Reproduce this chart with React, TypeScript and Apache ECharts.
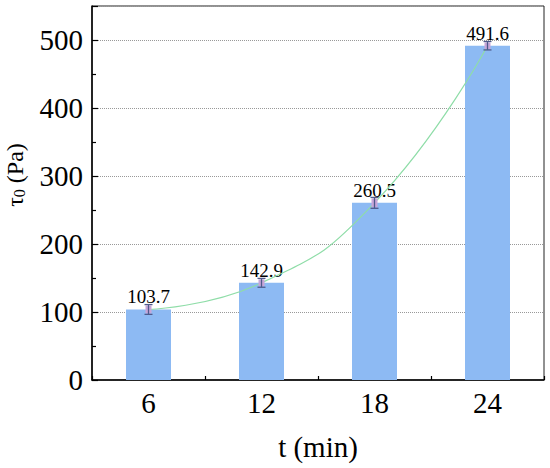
import React, { useEffect, useRef } from "react";
import * as echarts from "echarts";

const categories = ["6", "12", "18", "24"];
const tauValues = [103.7, 142.9, 260.5, 491.6];
const tauErrors = [7.2, 6.5, 8, 6.2];

const FONT = "'Liberation Serif', 'Times New Roman', serif";

export default function App() {
  const ref = useRef<HTMLDivElement>(null);

  useEffect(() => {
    document.body.style.margin = "0";
    if (!ref.current) return;
    const chart = echarts.init(ref.current, undefined, { renderer: "svg" });

    const errorData = categories.map((_, i) => [i, tauValues[i], tauErrors[i]]);

    chart.setOption({
      animation: false,
      textStyle: { fontFamily: FONT },
      grid: {
        left: 92,
        right: 6,
        top: 6,
        bottom: 88,
        containLabel: false,
        outerBoundsMode: "none",
        show: true,
        borderColor: "#222",
        borderWidth: 1,
        backgroundColor: "transparent",
      },
      xAxis: [
        {
          type: "category",
          data: categories,
          boundaryGap: true,
          name: "t (min)",
          nameLocation: "middle",
          nameGap: 52,
          nameTextStyle: { fontFamily: FONT, fontSize: 29, color: "#000" },
          axisLine: { lineStyle: { color: "#000", width: 1.5 } },
          axisTick: { show: true, alignWithLabel: true, inside: true, length: 6, lineStyle: { color: "#000", width: 1.2 } },
          axisLabel: { fontFamily: FONT, fontSize: 29, color: "#000", margin: 8 },
          splitLine: { show: false },
        },
        {
          type: "category",
          data: categories,
          boundaryGap: true,
          position: "bottom",
          axisLine: { show: false },
          axisTick: { show: true, alignWithLabel: false, inside: true, length: 4, lineStyle: { color: "#000", width: 1.2 } },
          axisLabel: { show: false },
          splitLine: { show: false },
        },
      ],
      yAxis: {
        type: "value",
        min: 0,
        max: 550,
        interval: 100,
        name: "{t|τ}{s|0} (Pa)",
        nameLocation: "middle",
        nameGap: 65,
        nameTextStyle: {
          fontFamily: FONT,
          fontSize: 24,
          color: "#000",
          padding: [0, 0, 0, 36],
          rich: {
            t: { fontFamily: FONT, fontSize: 24, color: "#000" },
            s: { fontFamily: FONT, fontSize: 16, color: "#000", verticalAlign: "bottom" },
          },
        },
        axisLine: { show: true, lineStyle: { color: "#000", width: 1.5 } },
        axisTick: { show: true, inside: true, length: 6, lineStyle: { color: "#000", width: 1.2 } },
        minorTick: { show: true, splitNumber: 2, length: 4, lineStyle: { color: "#000", width: 1.2 } },
        axisLabel: { fontFamily: FONT, fontSize: 29, color: "#000", margin: 9, showMaxLabel: false },
        splitLine: { show: true, lineStyle: { type: "dotted", color: "#999", width: 1 } },
      },
      series: [
        {
          type: "bar",
          data: tauValues,
          barWidth: 45,
          itemStyle: { color: "#8DBAF3" },
          label: {
            show: true,
            position: "top",
            distance: 3,
            fontFamily: FONT,
            fontSize: 19,
            color: "#000",
            formatter: (p: any) => p.value.toFixed(1),
          },
          z: 2,
        },
        {
          type: "line",
          data: tauValues,
          smooth: true,
          showSymbol: false,
          symbol: "none",
          lineStyle: { color: "#8FDDA8", width: 1.2 },
          z: 3,
        },
        {
          type: "custom",
          data: errorData,
          encode: { x: 0, y: 1 },
          z: 4,
          renderItem: (params: any, api: any) => {
            const idx = api.value(0);
            const v = api.value(1);
            const e = api.value(2);
            const top = api.coord([idx, v + e]);
            const bot = api.coord([idx, v - e]);
            const mid = api.coord([idx, v]);
            const cw = 4;
            const stroke = { stroke: "#4F5A8C", lineWidth: 1.3 };
            return {
              type: "group",
              children: [
                { type: "rect", shape: { x: mid[0] - 3, y: top[1] + 1, width: 6, height: bot[1] - top[1] - 2 }, style: { fill: "#C7A6D9" } },
                { type: "line", shape: { x1: top[0], y1: top[1], x2: bot[0], y2: bot[1] }, style: stroke },
                { type: "line", shape: { x1: top[0] - cw, y1: top[1], x2: top[0] + cw, y2: top[1] }, style: stroke },
                { type: "line", shape: { x1: bot[0] - cw, y1: bot[1], x2: bot[0] + cw, y2: bot[1] }, style: stroke },
              ],
            };
          },
        },
      ],
    });

    return () => chart.dispose();
  }, []);

  return <div ref={ref} style={{ width: 550, height: 468 }} />;
}
